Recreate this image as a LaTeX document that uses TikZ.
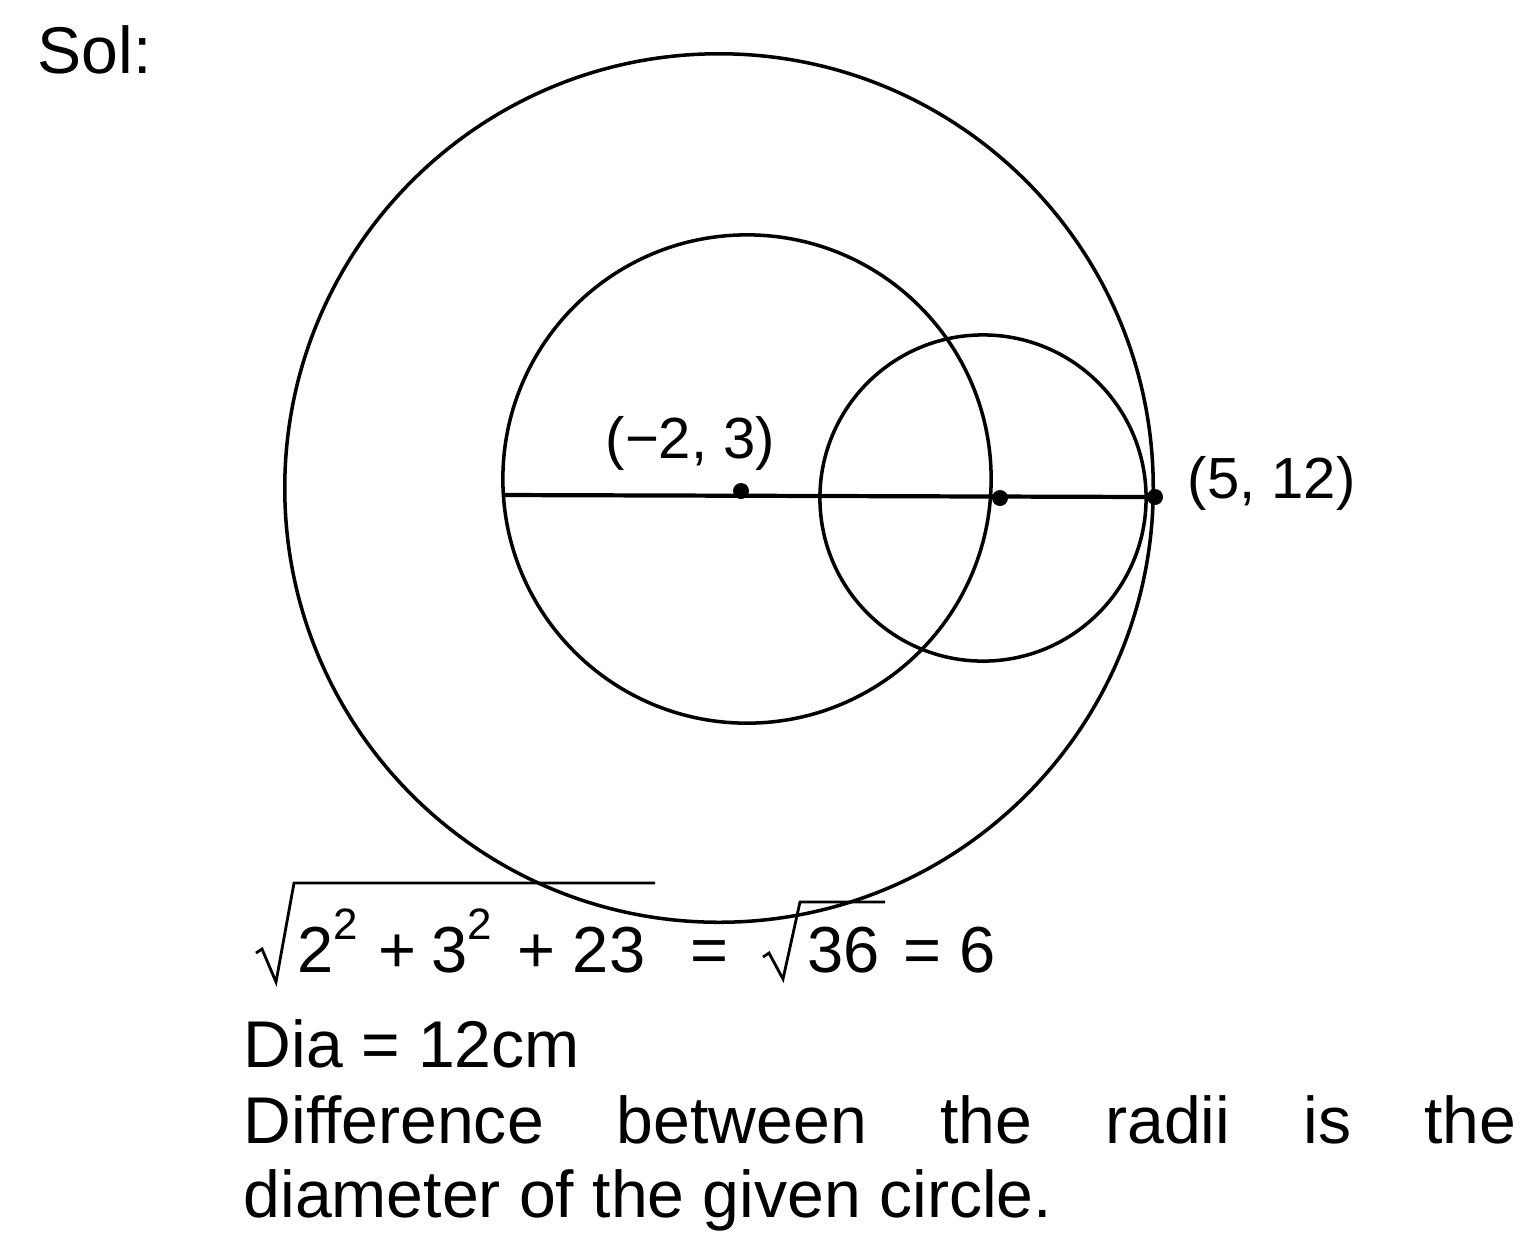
\documentclass[tikz,border=0pt]{standalone}
\usepackage{fontspec}
\setmainfont{Liberation Sans}
\usetikzlibrary{positioning}
\newcommand{\suptwo}{\raisebox{0.5em}{\fontsize{12.5}{15}\selectfont 2}}
\tikzset{
  ring/.style={draw=black, line width=1pt},
  diamline/.style={draw=black, line width=1.2pt},
  dotmark/.style={circle, fill=black, inner sep=0pt, minimum size=1.6mm},
  ptlabel/.style={font=\fontsize{16.5}{19}\selectfont, inner sep=0pt, anchor=base west},
  bodytext/.style={font=\fontsize{18.8}{22}\selectfont, inner sep=0pt, anchor=base west},
  sumtext/.style={font=\fontsize{18.5}{21}\selectfont, inner sep=0pt, anchor=base west},
  radical/.style={draw=black, line width=0.8pt, line join=miter},
}
\begin{document}
\begin{tikzpicture}[x=0.01cm, y=-0.01cm]
  \useasboundingbox (0,0) rectangle (1530,1238);
  \node[bodytext] (sol) at (37,73) {Sol:};
  % the three circles
  \draw[ring] (719,488) circle[radius=4.34cm];
  \draw[ring] (747,479) circle[radius=2.44cm];
  \draw[ring] (983,498) circle[radius=1.63cm];
  % diameter and its points
  \coordinate (A) at (503,495);
  \coordinate (C) at (741,491);
  \coordinate (M) at (1000,498);
  \coordinate (P) at (1155,497);
  \draw[diamline] (A) -- (P);
  \node[dotmark] (c) at (C) {};
  \node[dotmark] (m) at (M) {};
  \node[dotmark] (p) at (P) {};
  \node[ptlabel] (clabel) at (605,458) {(−2, 3)};
  \node[ptlabel] (plabel) at (1187,498) {(5, 12)};
  % working
  \node[sumtext] (lhs) at (297,972) {2\suptwo\hspace{2mm}+\hspace{1.5mm}3\suptwo\hspace{2.6mm}+\hspace{1.7mm}23};
  \draw[radical] (256,953) -- (262,949) -- (276,982) -- (294,883) -- (655,883);
  \node[sumtext] (eqa) at (690,972) {=};
  \draw[radical] (763,957) -- (769,953) -- (783,979) -- (800,902) -- (885,902);
  \node[sumtext] (root) at (807,972) {36};
  \node[sumtext] (res) at (903,972) {= 6};
  \node[bodytext] (dia) at (243,1067) {Dia = 12cm};
  \node[bodytext] (diff) at (243,1143) {\makebox[12.72cm][s]{Difference between the radii is the}};
  \node[bodytext] (diam) at (243,1217) {diameter of the given circle.};
\end{tikzpicture}
\end{document}
